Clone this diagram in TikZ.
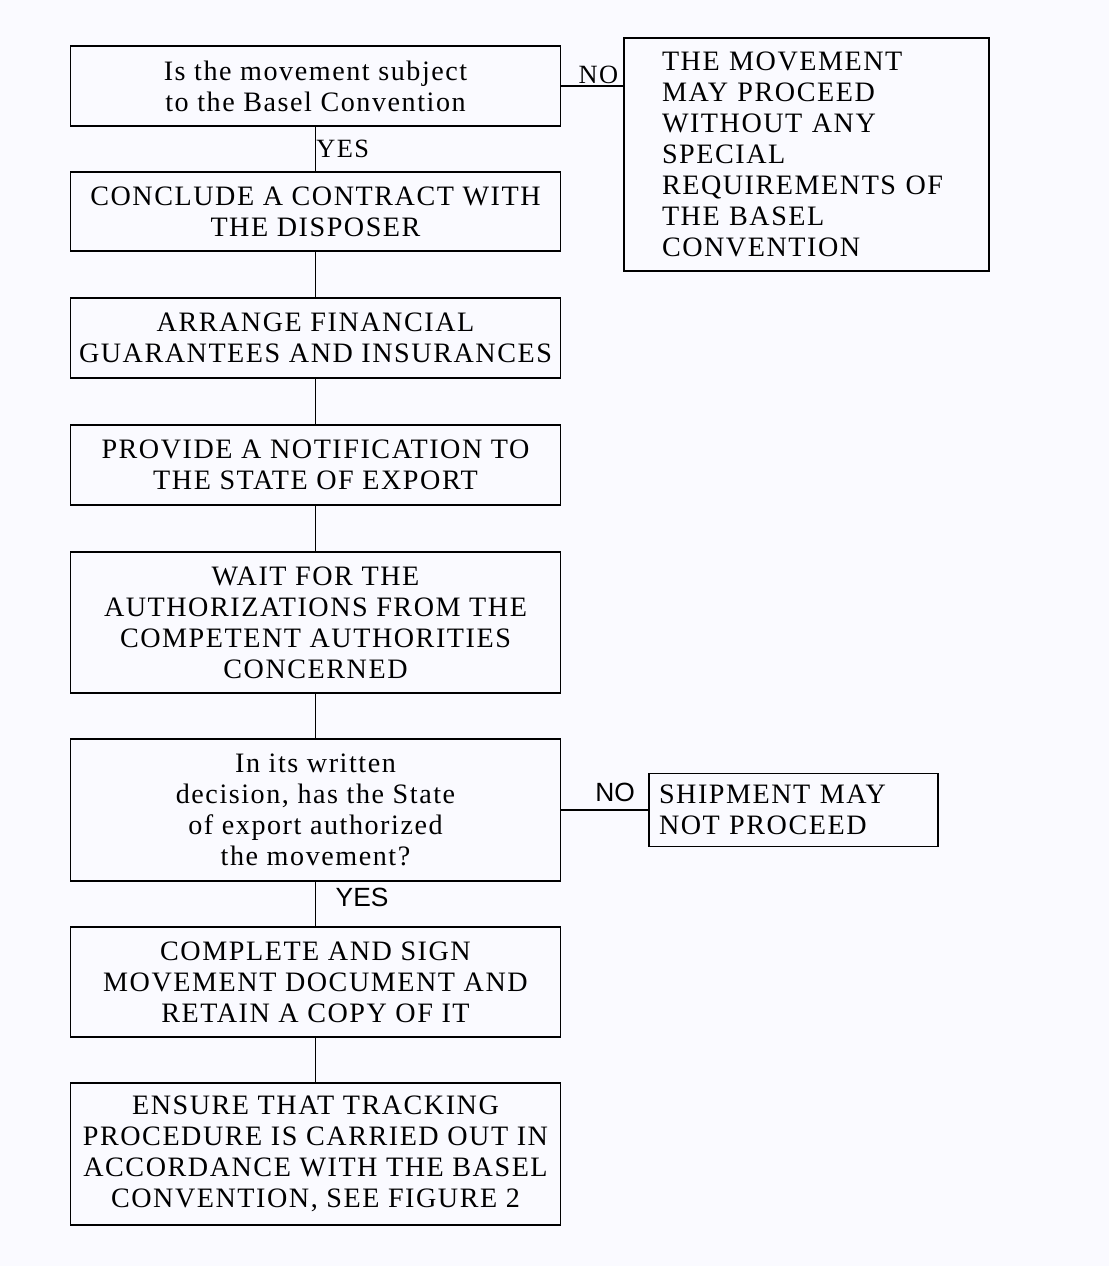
\documentclass[tikz,border=0pt]{standalone}
\usepackage{fontspec}
\setmainfont{Liberation Serif}[LetterSpace=5.5]
\newfontfamily\labelsans{Liberation Sans}
\usepackage{tikz}
\usetikzlibrary{calc}

\begin{document}
\begin{tikzpicture}[
    box/.style={draw,line width=1pt,minimum width=9.8cm,align=center,inner sep=0pt,
      font=\fontsize{16}{17.6}\selectfont},
    sidebox/.style={draw,line width=1pt,align=left,inner ysep=0pt,
      font=\fontsize{16}{17.6}\selectfont},
    link/.style={line width=1pt},
    lbl/.style={font=\fontsize{15}{17}\selectfont,inner sep=1pt}
  ]
        \fill[black!5!blue!2!white] (0,0) rectangle (22.18,-25.32);
        \useasboundingbox (0,0) rectangle (22.18,-25.32);

        \node[box,minimum height=1.6cm] (subject) at (6.31,-1.72) {Is the movement subject\\to the Basel Convention};
        \node[sidebox,text width=5.78cm,inner xsep=0.76cm,minimum height=4.66cm] (proceed) at (16.13,-3.09)
          {THE MOVEMENT\\MAY PROCEED\\WITHOUT ANY\\SPECIAL\\REQUIREMENTS OF\\THE BASEL\\CONVENTION};
        \node[box,minimum height=1.58cm] (contract) at (6.31,-4.23) {CONCLUDE A CONTRACT WITH\\THE DISPOSER};
        \node[box,minimum height=1.6cm] (finance) at (6.31,-6.76) {ARRANGE FINANCIAL\\GUARANTEES AND INSURANCES};
        \node[box,minimum height=1.6cm] (notify) at (6.31,-9.30) {PROVIDE A NOTIFICATION TO\\THE STATE OF EXPORT};
        \node[box,minimum height=2.82cm] (wait) at (6.31,-12.45) {WAIT FOR THE\\AUTHORIZATIONS FROM THE\\COMPETENT AUTHORITIES\\CONCERNED};
        \node[box,minimum height=2.84cm] (decision) at (6.31,-16.20) {In its written\\decision, has the State\\of export authorized\\the movement?};
        \node[sidebox,text width=5.38cm,inner xsep=0.2cm,minimum height=1.46cm] (stop) at (15.87,-16.20)
          {SHIPMENT MAY\\NOT PROCEED};
        \node[box,minimum height=2.2cm] (sign) at (6.31,-19.64) {COMPLETE AND SIGN\\MOVEMENT DOCUMENT AND\\RETAIN A COPY OF IT};
        \node[box,minimum height=2.84cm] (track) at (6.31,-23.08) {ENSURE THAT TRACKING\\PROCEDURE IS CARRIED OUT IN\\ACCORDANCE WITH THE BASEL\\CONVENTION, SEE FIGURE 2};

        % connectors
        \draw[link] (subject.east) -- (proceed.west |- subject.east) node[pos=0.6,above,lbl] {NO};
        \draw[link] (subject) -- (contract) node[midway,right,lbl,xshift=-1pt] {YES};
        \draw[link] (contract) -- (finance);
        \draw[link] (finance) -- (notify);
        \draw[link] (notify) -- (wait);
        \draw[link] (wait) -- (decision);
        \draw[link] (decision.east) -- (stop.west) node[pos=0.62,above,lbl,yshift=3pt] {\labelsans NO};
        \draw[link] (decision) -- (sign) node[midway,right,lbl,xshift=10pt,yshift=4pt] {\labelsans YES};
        \draw[link] (sign) -- (track);
      \end{tikzpicture}
\end{document}
